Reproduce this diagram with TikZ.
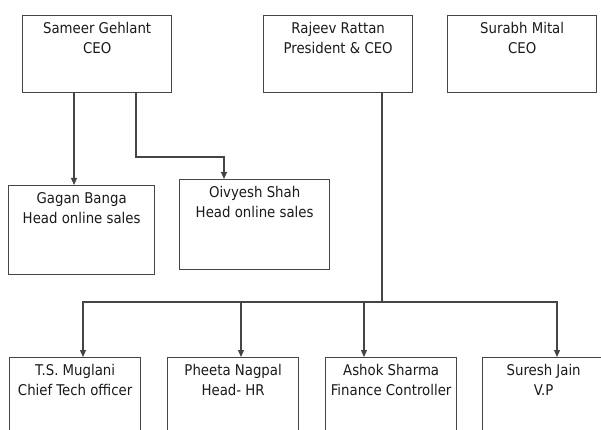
\documentclass[tikz,border=0pt]{standalone}
\usepackage{fontspec}
\setmainfont{DejaVu Sans Condensed}
\usetikzlibrary{arrows.meta}
\definecolor{linec}{HTML}{454545}
\definecolor{txtc}{HTML}{1A1A1A}
\begin{document}
\begin{tikzpicture}[x=1pt,y=-1pt,
  box/.style={draw=linec, line width=1.3pt, rectangle, inner sep=0pt, anchor=north west},
  lbl/.style={anchor=north, inner sep=0pt, align=center, text=txtc,
    font=\fontsize{14.8pt}{20pt}\selectfont, yshift=-7pt},
  conn/.style={draw=linec, line width=1.2pt},
  arr/.style={conn, -{Triangle[width=6pt,length=7pt]}}]
\useasboundingbox (0,0) rectangle (601,430);
\clip (0,0) rectangle (601,430);
% boxes
\node[box, minimum width=149pt, minimum height=77pt] (sam) at (22,15) {};
\node[box, minimum width=149pt, minimum height=77pt] (raj) at (263,15) {};
\node[box, minimum width=149pt, minimum height=77pt] (sur) at (447,15) {};
\node[box, minimum width=146pt, minimum height=89pt] (gag) at (8,185) {};
\node[box, minimum width=150pt, minimum height=90pt] (oiv) at (179,179) {};
\node[box, minimum width=131pt, minimum height=100pt] (ts) at (9,357) {};
\node[box, minimum width=131pt, minimum height=100pt] (phe) at (167,357) {};
\node[box, minimum width=131pt, minimum height=100pt] (ash) at (325,357) {};
\node[box, minimum width=122pt, minimum height=100pt] (sjn) at (482,357) {};
% labels
\node[lbl] (samt) at (sam.north) {Sameer Gehlant\\CEO};
\node[lbl] (rajt) at (raj.north) {Rajeev Rattan\\President \& CEO};
\node[lbl] (surt) at (sur.north) {Surabh Mital\\CEO};
\node[lbl] (gagt) at (gag.north) {Gagan Banga\\Head online sales};
\node[lbl] (oivt) at (oiv.north) {Oivyesh Shah\\Head online sales};
\node[lbl] (tst) at (ts.north) {T.S. Muglani\\Chief Tech officer};
\node[lbl] (phet) at (phe.north) {Pheeta Nagpal\\Head- HR};
\node[lbl] (asht) at (ash.north) {Ashok Sharma\\Finance Controller};
\node[lbl] (sjnt) at (sjn.north) {Suresh Jain\\V.P};
% connectors
\draw[arr] ([xshift=52pt]sam.south west) -- ([xshift=66pt]gag.north west);
\draw[arr] ([xshift=114pt]sam.south west) |- ([xshift=45pt,yshift=22pt]oiv.north west) -- ([xshift=45pt]oiv.north west);
\coordinate (bus) at (382,302);
\draw[conn] ([xshift=119pt]raj.south west) -- (bus);
\draw[arr] (bus) -| ([xshift=74pt]ts.north west);
\draw[arr] (bus) -| ([xshift=74pt]phe.north west);
\draw[arr] (bus) -| ([xshift=39pt]ash.north west);
\draw[arr] (bus) -| ([xshift=75pt]sjn.north west);
\end{tikzpicture}
\end{document}
